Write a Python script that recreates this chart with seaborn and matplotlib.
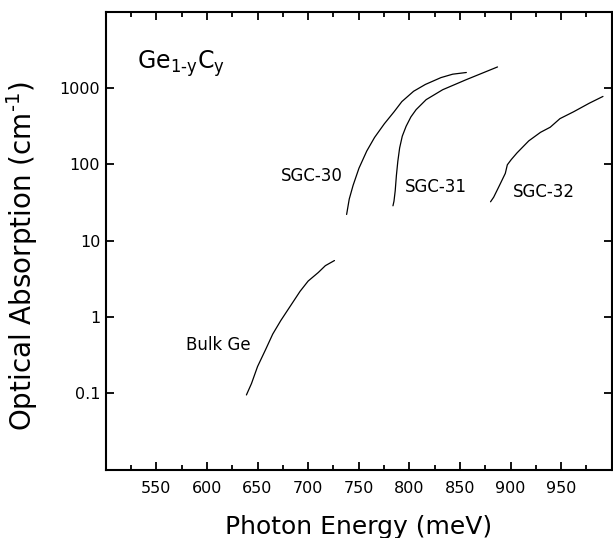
import numpy as np
import pandas as pd
import matplotlib
matplotlib.use("Agg")
import matplotlib.pyplot as plt
import matplotlib.ticker as mticker
import seaborn as sns

# values
bulk_ge_e = [639, 644, 650, 658, 665, 673, 683, 692, 700, 710, 717, 726]
bulk_ge_a = [0.095, 0.134, 0.224, 0.375, 0.597, 0.90, 1.43, 2.17, 2.96, 3.83, 4.71, 5.5]

sgc30_e = [738, 740.6, 744.4, 750.2, 757.9, 765.6, 775.3, 784.9, 792.6, 804.2, 815.8, 831.2, 842.8, 856.3]
sgc30_a = [22.1, 35.2, 53.2, 89.3, 150, 226, 342, 491, 668, 912, 1120, 1377, 1527, 1607]

sgc31_e = [783.8, 784.8, 786.0, 787.2, 788.6, 790.4, 793.0, 796.8, 801.5, 806.7, 816.6, 832.9, 856.0, 887.1]
sgc31_a = [28.7, 33, 45, 72, 110, 165, 235, 317, 420, 524, 708, 955, 1291, 1900]

sgc32_e = [880.2, 883.3, 889.1, 894.8, 896.8, 900.7, 906.4, 918.0, 929.6, 939.2, 948.8, 962.3, 977.8, 991.3]
sgc32_a = [32.4, 37.2, 53.3, 76.4, 99, 116, 142, 204, 264, 308, 399, 491, 636, 780]

samples = ["Bulk Ge", "SGC-30", "SGC-31", "SGC-32"]
energies = [bulk_ge_e, sgc30_e, sgc31_e, sgc32_e]
absorptions = [bulk_ge_a, sgc30_a, sgc31_a, sgc32_a]

# label anchors (energy, absorption)
label_e = [579, 673, 796, 902]
label_a = [0.37, 60, 44, 38]

x_ticks = [550, 600, 650, 700, 750, 800, 850, 900, 950]
y_ticks = [0.1, 1, 10, 100, 1000]
y_ticklabels = ["0.1", "1", "10", "100", "1000"]

rows = []
for name, e, a in zip(samples, energies, absorptions):
    for ei, ai in zip(e, a):
        rows.append({"sample": name, "energy": ei, "absorption": ai})
df = pd.DataFrame(rows)

sns.set_style("ticks")
plt.rcParams["font.family"] = ["DejaVu Sans"]
plt.rcParams["text.color"] = "black"
plt.rcParams["axes.labelcolor"] = "black"
plt.rcParams["xtick.color"] = "black"
plt.rcParams["ytick.color"] = "black"

fig = plt.figure(figsize=(6.13, 5.38), dpi=100)
ax = fig.add_axes([0.1725, 0.1273, 0.8255, 0.8505])

sns.lineplot(data=df, x="energy", y="absorption", hue="sample", units="sample",
             estimator=None, palette=["black"] * 4, linewidth=0.9, legend=False, ax=ax)

ax.set_yscale("log")
ax.set_xlim(500, 1000)
ax.set_ylim(0.01, 10000)

ax.set_xticks(x_ticks)
ax.xaxis.set_minor_locator(mticker.MultipleLocator(25))
ax.set_yticks(y_ticks)
ax.set_yticklabels(y_ticklabels)
ax.yaxis.set_minor_locator(mticker.NullLocator())

ax.tick_params(which="both", direction="in", top=True, right=True, width=1.3, labelsize=11.5)
ax.tick_params(which="major", length=6)
ax.tick_params(which="minor", length=3.5)
ax.tick_params(axis="x", pad=8)
ax.tick_params(axis="y", pad=4)
for sp in ax.spines.values():
    sp.set_linewidth(1.5)
    sp.set_color("black")

ax.set_xlabel("Photon Energy (meV)", fontsize=18, labelpad=14)
ax.set_ylabel("Optical Absorption (cm$^{\u2010\\mathregular{1}}$)", fontsize=20)
ax.yaxis.set_label_coords(-0.13, 0.467)

for name, le, la in zip(samples, label_e, label_a):
    ax.text(le, la, name, fontsize=12, ha="left", va="baseline")

ax.text(531, 1800, "Ge$_{\\mathregular{1\u2010y}}$C$_{\\mathregular{y}}$", fontsize=17,
        ha="left", va="baseline")

fig.savefig("out.png", dpi=100)
